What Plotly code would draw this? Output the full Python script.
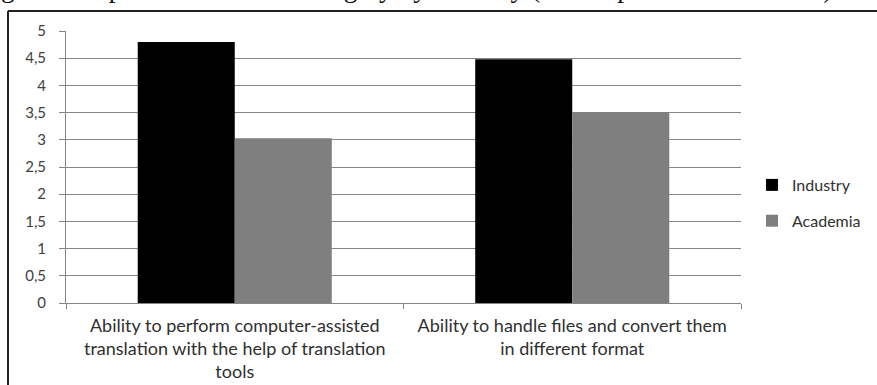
import plotly.graph_objects as go

# Data
categories = [
    "Ability to perform computer-assisted<br>translation with the help of translation<br>tools",
    "Ability to handle files and convert them<br>in different format",
]
industry = [4.80, 4.48]
academia = [3.03, 3.50]
y_ticks = [0, 0.5, 1, 1.5, 2, 2.5, 3, 3.5, 4, 4.5, 5]
y_tick_labels = ["0", "0,5", "1", "1,5", "2", "2,5", "3", "3,5", "4", "4,5", "5"]
title_text = "gical competences estimated highly by industry (as compared to Academia)"

W, H = 877, 385
L, R, T, B = 66, 136, 31, 82
pw, ph = W - L - R, H - T - B


def px_x(p):
    return (p - L) / pw


def px_y(p):
    return (H - B - p) / ph


sans = "Lato, 'Open Sans', sans-serif"

fig = go.Figure()
fig.add_trace(go.Bar(name="Industry", x=categories, y=industry,
                     marker=dict(color="#000000", line=dict(width=0)),
                     legendgroup="a"))
fig.add_trace(go.Bar(name="Academia", x=categories, y=academia,
                     marker=dict(color="#7f7f7f", line=dict(width=0)),
                     legendgroup="b"))

fig.update_layout(
    width=W, height=H,
    margin=dict(l=L, r=R, t=T, b=B, autoexpand=False),
    paper_bgcolor="white", plot_bgcolor="white",
    barmode="group", bargap=0.425, bargroupgap=0,
    font=dict(family=sans, size=15, color="#404040"),
    legend=dict(x=px_x(752), y=px_y(168), xanchor="left", yanchor="top",
                font=dict(family=sans, size=16, color="#303030"),
                tracegroupgap=12, itemwidth=30, bgcolor="rgba(0,0,0,0)"),
    xaxis=dict(showline=True, linecolor="#868686", linewidth=1,
               ticks="outside", ticklen=5, tickcolor="#868686",
               tickson="boundaries", showgrid=False, automargin=False,
               ticklabelstandoff=6,
               tickfont=dict(family=sans, size=18, color="#303030")),
    yaxis=dict(range=[0, 5], tickvals=y_ticks, ticktext=y_tick_labels,
               showline=True, linecolor="#868686", linewidth=1,
               ticks="outside", ticklen=6, tickcolor="#868686",
               showgrid=True, gridcolor="#868686", gridwidth=1,
               zeroline=False, ticklabelstandoff=10, automargin=False,
               tickfont=dict(family=sans, size=15, color="#404040")),
)

# Chart frame (top and left edges)
fig.add_shape(type="line", xref="paper", yref="paper",
              x0=px_x(8), x1=px_x(W + 5), y0=px_y(11), y1=px_y(11),
              line=dict(color="#222222", width=2))
fig.add_shape(type="line", xref="paper", yref="paper",
              x0=px_x(8), x1=px_x(8), y0=px_y(11), y1=px_y(H + 5),
              line=dict(color="#222222", width=2))

# Heading line above the frame
fig.add_annotation(text=title_text, xref="paper", yref="paper",
                   x=px_x(-1), y=px_y(-12), xanchor="left", yanchor="middle",
                   showarrow=False,
                   font=dict(family="'Liberation Serif', 'Times New Roman', serif",
                             size=27.5, color="#111111"))

fig.write_html("out.html")
